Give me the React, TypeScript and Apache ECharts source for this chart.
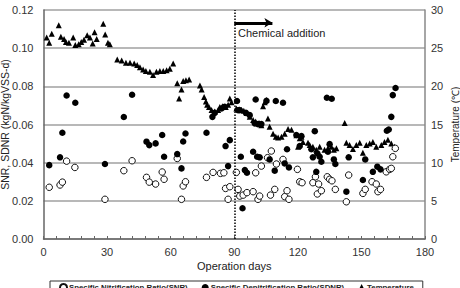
import React, { useEffect, useRef } from "react";
import * as echarts from "echarts";

// Operation day, Specific Nitrification Ratio (kgN/kgVSS-d)
const snrData: [number, number][] = [
  [2.7, 0.0271], [7.8, 0.0283], [8.9, 0.0298], [10.9, 0.0408], [14.8, 0.0375], [29.0, 0.0208],
  [37.9, 0.0358], [41.8, 0.041], [48.6, 0.0323], [49.9, 0.0298], [52.9, 0.0288], [56.0, 0.0351],
  [56.9, 0.0313], [63.1, 0.0422], [65.1, 0.0208], [65.9, 0.0278], [67.0, 0.03], [76.9, 0.0323],
  [80.0, 0.0349], [83.5, 0.0344], [85.1, 0.0347], [85.9, 0.0265], [87.1, 0.0208], [87.9, 0.0274],
  [91.0, 0.0349], [91.8, 0.026], [92.6, 0.0225], [94.2, 0.023], [96.0, 0.0243], [98.9, 0.0248],
  [100.1, 0.0347], [101.2, 0.0208], [102.0, 0.0225], [102.8, 0.0382], [105.7, 0.0426], [107.1, 0.023],
  [107.5, 0.0461], [109.1, 0.026], [109.9, 0.0393], [113.0, 0.0417], [113.8, 0.0222], [114.9, 0.0253],
  [115.8, 0.0208], [119.8, 0.0365], [120.9, 0.03], [122.0, 0.0295], [127.1, 0.0295], [128.3, 0.0326],
  [129.2, 0.0236], [129.8, 0.0288], [131.1, 0.0253], [133.9, 0.0326], [135.0, 0.0313], [136.1, 0.0305],
  [137.7, 0.026], [142.9, 0.0195], [144.0, 0.0335], [150.7, 0.0239], [151.8, 0.026], [155.0, 0.03],
  [157.0, 0.0288], [157.8, 0.0248], [159.0, 0.026], [161.7, 0.0352], [163.3, 0.0365], [164.1, 0.037],
  [164.8, 0.0431], [166.0, 0.0475],
];

// Operation day, Specific Denitrification Ratio (kgN/kgVSS-d)
const sdnrData: [number, number][] = [
  [2.7, 0.0387], [7.8, 0.0428], [8.9, 0.0557], [10.9, 0.0752], [15.0, 0.0714], [29.0, 0.0393],
  [37.9, 0.0639], [41.8, 0.0756], [48.6, 0.051], [49.9, 0.0492], [52.9, 0.0501], [56.0, 0.0545],
  [56.9, 0.0431], [63.1, 0.0445], [65.1, 0.037], [65.9, 0.0511], [67.0, 0.0553], [76.9, 0.0557],
  [79.7, 0.064], [80.8, 0.0661], [84.0, 0.0684], [85.5, 0.0693], [85.9, 0.0487], [87.1, 0.0382],
  [87.9, 0.0518], [91.3, 0.0723], [91.8, 0.0675], [92.6, 0.0675], [93.1, 0.0431], [93.9, 0.0161],
  [95.0, 0.0361], [95.5, 0.0661], [96.0, 0.0347], [97.3, 0.0649], [98.9, 0.0457], [99.7, 0.0606],
  [100.1, 0.0731], [100.8, 0.0431], [101.2, 0.0602], [102.0, 0.0428], [102.8, 0.0602], [105.2, 0.0724],
  [106.7, 0.0417], [109.1, 0.0358], [109.6, 0.0723], [113.0, 0.0714], [113.8, 0.0396], [114.9, 0.047],
  [115.8, 0.0375], [119.3, 0.0545], [120.9, 0.0487], [121.7, 0.0539], [126.4, 0.047], [127.1, 0.0428],
  [128.0, 0.0565], [128.7, 0.0352], [129.2, 0.0449], [130.3, 0.0431], [131.1, 0.0405], [133.7, 0.074],
  [134.2, 0.0457], [135.0, 0.0497], [136.0, 0.0735], [137.0, 0.0417], [137.7, 0.0393], [142.9, 0.0248],
  [144.0, 0.0428], [150.7, 0.0309], [151.8, 0.0417], [155.4, 0.0352], [157.5, 0.0379], [159.0, 0.0365],
  [162.0, 0.0567], [162.9, 0.0574], [164.1, 0.064], [164.8, 0.0754], [166.1, 0.0791],
];

// Operation day, Temperature (°C)
const tempData: [number, number][] = [
  [1.5, 26.4], [2.7, 25.7], [3.9, 26.9], [7.2, 28.0], [8.2, 26.5], [9.7, 26.2], [10.6, 25.8],
  [12.0, 25.7], [14.0, 26.4], [15.0, 25.4], [16.6, 25.5], [17.8, 25.8], [19.1, 26.1], [20.6, 26.7],
  [21.9, 26.4], [23.2, 25.6], [24.1, 27.1], [25.1, 26.2], [28.2, 28.2], [29.1, 26.8], [30.4, 25.7],
  [31.3, 25.5], [34.8, 23.5], [36.9, 23.4], [38.9, 23.1], [40.8, 23.1], [42.8, 23.0], [44.2, 22.8],
  [45.5, 22.5], [47.0, 22.2], [48.3, 22.0], [50.2, 21.9], [51.7, 21.5], [53.3, 21.9], [54.9, 22.0],
  [56.5, 22.0], [58.1, 22.1], [59.6, 22.3], [61.2, 23.0], [63.1, 20.4], [64.0, 18.4], [65.1, 19.6],
  [65.9, 20.7], [67.2, 20.8], [68.7, 20.9], [73.8, 20.1], [74.6, 19.6], [75.8, 18.6], [76.6, 18.0],
  [77.2, 17.6], [78.1, 17.3], [79.3, 16.9], [80.8, 16.7], [82.4, 16.9], [83.2, 17.3], [84.4, 17.4],
  [86.0, 17.3], [87.1, 17.6], [87.9, 18.4], [88.7, 17.9], [91.0, 17.1], [92.3, 17.0], [93.4, 16.9],
  [94.5, 16.8], [95.8, 16.5], [97.3, 16.0], [98.9, 15.6], [100.1, 15.4], [101.7, 15.2], [102.8, 14.9],
  [103.6, 17.4], [104.4, 17.9], [105.2, 18.2], [105.9, 15.8], [106.7, 14.7], [108.3, 13.8],
  [109.6, 13.4], [110.7, 13.3], [112.3, 13.4], [113.8, 13.8], [115.4, 14.4], [117.0, 14.3],
  [119.3, 13.6], [120.1, 12.1], [120.9, 13.2], [121.7, 13.4], [122.4, 12.7], [124.8, 12.6],
  [125.6, 12.3], [127.1, 12.1], [128.7, 11.7], [130.3, 12.1], [132.6, 11.7], [134.2, 11.9],
  [135.8, 12.1], [137.0, 11.7], [138.2, 11.9], [142.1, 15.2], [142.9, 12.6], [144.4, 12.3],
  [146.0, 11.8], [147.6, 12.3], [149.2, 12.6], [150.7, 11.3], [152.3, 12.3], [153.9, 12.5],
  [155.4, 12.7], [157.0, 12.1], [159.4, 12.3], [160.9, 12.7], [162.5, 13.0], [164.1, 12.5], [165.6, 12.1],
];

const xRange = { min: 0, max: 180, interval: 30 };
const leftRange = { min: 0, max: 0.12, interval: 0.02 };
const rightRange = { min: 0, max: 30, interval: 5 };
const chemicalDay = 90;
const arrowEndDay = 108;
const arrowLevel = 0.1133;

const seriesNames = [
  "Specific Nitrification Ratio(SNR)",
  "Specific Denitrification Ratio(SDNR)",
  "Temperature",
];

const FONT = "Liberation Sans, Arial, sans-serif";

export default function App() {
  const ref = useRef<HTMLDivElement>(null);
  useEffect(() => {
    if (!ref.current) return;
    const chart = echarts.init(ref.current, null, { renderer: "svg" });
    chart.setOption({
      animation: false,
      backgroundColor: "#ffffff",
      textStyle: { fontFamily: FONT },
      grid: { left: 43.5, right: 35, top: 10, bottom: 49, containLabel: false, outerBoundsMode: "none" },
      legend: {
        left: 50,
        top: 281,
        orient: "horizontal",
        borderColor: "#333",
        borderWidth: 1,
        padding: [2, 9, 2, 9],
        itemGap: 14,
        itemWidth: 7,
        itemHeight: 7,
        textStyle: { fontSize: 7.8, fontWeight: "bold", color: "#222", fontFamily: FONT, padding: [0, 0, 0, -3] },
        data: [
          { name: seriesNames[0], icon: "circle" },
          { name: seriesNames[1], icon: "circle" },
          { name: seriesNames[2], icon: "triangle" },
        ],
      },
      xAxis: {
        type: "value",
        min: xRange.min,
        max: xRange.max,
        interval: xRange.interval,
        name: "Operation days",
        nameLocation: "middle",
        nameGap: 21,
        nameMoveOverlap: false,
        nameTextStyle: { fontSize: 11, color: "#222", fontFamily: FONT },
        axisLine: { show: true, lineStyle: { color: "#666", width: 1.5 } },
        axisTick: { show: true, inside: true, length: 3, lineStyle: { color: "#666" } },
        minorTick: { show: true, splitNumber: 5, length: 3, lineStyle: { color: "#666" } },
        axisLabel: { fontSize: 11, color: "#333", margin: 7, fontFamily: FONT },
        splitLine: { show: false },
      },
      yAxis: [
        {
          type: "value",
          min: leftRange.min,
          max: leftRange.max,
          interval: leftRange.interval,
          name: "SNR, SDNR (kgN/kgVSS-d)",
          nameLocation: "middle",
          nameGap: 33,
          nameMoveOverlap: false,
          nameTextStyle: { fontSize: 10.5, color: "#222", fontFamily: FONT },
          axisLine: { show: true, lineStyle: { color: "#666", width: 1.5 } },
          axisTick: { show: false },
          axisLabel: { fontSize: 11, color: "#333", margin: 10, formatter: (v: number) => v.toFixed(2), fontFamily: FONT },
          splitLine: { show: true, lineStyle: { color: "#a0a0a0", width: 1.5 } },
        },
        {
          type: "value",
          min: rightRange.min,
          max: rightRange.max,
          interval: rightRange.interval,
          name: "Temperature (\u2103)",
          nameLocation: "middle",
          nameGap: 25,
          nameRotate: 90,
          nameMoveOverlap: false,
          nameTextStyle: { fontSize: 10, color: "#222", fontFamily: FONT },
          axisLine: { show: true, lineStyle: { color: "#888", width: 1.5 } },
          axisTick: { show: false },
          axisLabel: { fontSize: 11, color: "#333", margin: 6, fontFamily: FONT },
          splitLine: { show: false },
        },
      ],
      graphic: [
        {
          type: "text",
          left: 238,
          top: 27,
          style: { text: "Chemical addition", font: `11px ${FONT}`, fill: "#222" },
        },
      ],
      series: [
        {
          name: seriesNames[2],
          type: "scatter",
          yAxisIndex: 1,
          symbol: "triangle",
          symbolSize: 6,
          itemStyle: { color: "#000", opacity: 1 },
          data: tempData,
          z: 2,
        },
        {
          name: seriesNames[0],
          type: "scatter",
          yAxisIndex: 0,
          symbol: "circle",
          symbolSize: 6.5,
          itemStyle: { color: "#fff", borderColor: "#111", borderWidth: 1, opacity: 1 },
          data: snrData,
          z: 3,
        },
        {
          name: seriesNames[1],
          type: "scatter",
          yAxisIndex: 0,
          symbol: "circle",
          symbolSize: 6.5,
          itemStyle: { color: "#000", opacity: 1 },
          data: sdnrData,
          z: 4,
          markLine: {
            silent: true,
            animation: false,
            label: { show: false },
            data: [
              [
                { coord: [chemicalDay, leftRange.min], symbol: "none", lineStyle: { type: [1.5, 1.5], color: "#000", width: 1.5 } },
                { coord: [chemicalDay, leftRange.max], symbol: "none" },
              ],
              [
                { coord: [chemicalDay, arrowLevel], symbol: "none", lineStyle: { type: "solid", color: "#000", width: 3 } },
                { coord: [arrowEndDay, arrowLevel], symbol: "arrow", symbolSize: [7, 8] },
              ],
            ],
          },
        },
      ],
    });
    return () => chart.dispose();
  }, []);
  return <div ref={ref} style={{ position: "fixed", left: 0, top: 0, width: 460, height: 288 }} />;
}
